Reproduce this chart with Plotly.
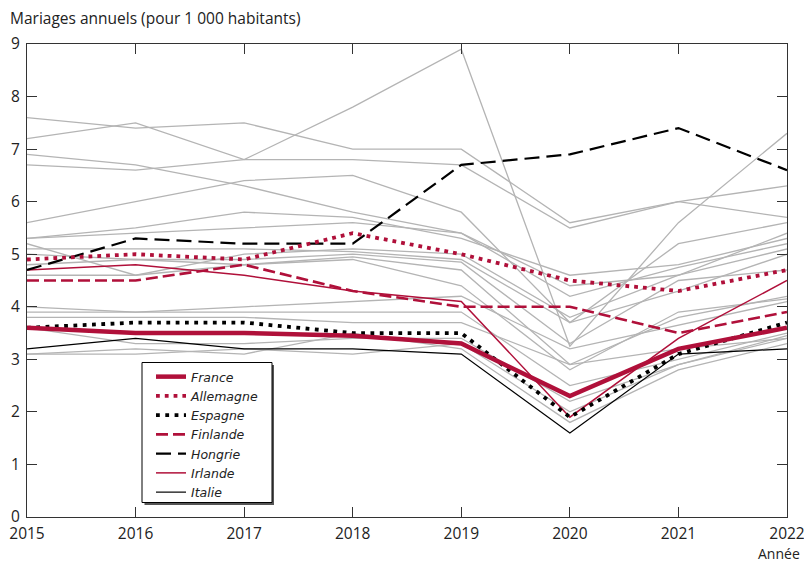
import plotly.graph_objects as go

years = [2015, 2016, 2017, 2018, 2019, 2020, 2021, 2022]
year_labels = ["2015", "2016", "2017", "2018", "2019", "2020", "2021", "2022"]
y_ticks = [0, 1, 2, 3, 4, 5, 6, 7, 8, 9]

france    = [3.6, 3.5, 3.5, 3.45, 3.3, 2.3, 3.2, 3.6]
allemagne = [4.9, 5.0, 4.9, 5.4, 5.0, 4.5, 4.3, 4.7]
espagne   = [3.6, 3.7, 3.7, 3.5, 3.5, 1.9, 3.1, 3.7]
finlande  = [4.5, 4.5, 4.8, 4.3, 4.0, 4.0, 3.5, 3.9]
hongrie   = [4.7, 5.3, 5.2, 5.2, 6.7, 6.9, 7.4, 6.6]
irlande   = [4.7, 4.8, 4.6, 4.3, 4.1, 1.9, 3.4, 4.5]
italie    = [3.2, 3.4, 3.2, 3.2, 3.1, 1.6, 3.1, 3.2]

# other EU countries (grey)
autres = [
    [7.6, 7.4, 7.5, 7.0, 7.0, 5.6, 6.0, 6.3],
    [7.2, 7.5, 6.8, 7.8, 8.9, 3.25, 5.6, 7.3],
    [6.7, 6.6, 6.8, 6.8, 6.7, 5.5, 6.0, 5.7],
    [6.9, 6.7, 6.3, 5.8, 5.4, 4.4, 4.6, 5.4],
    [5.6, 6.0, 6.4, 6.5, 5.8, 3.7, 5.2, 5.6],
    [5.3, 5.5, 5.8, 5.7, 5.3, 4.6, 4.8, 5.3],
    [5.3, 5.4, 5.5, 5.6, 5.4, 4.2, 4.75, 5.2],
    [5.2, 4.6, 5.0, 5.1, 5.0, 3.8, 4.6, 5.1],
    [5.1, 5.1, 5.1, 5.05, 4.9, 3.7, 4.3, 5.0],
    [5.0, 4.9, 4.9, 5.0, 4.85, 3.3, 4.5, 4.7],
    [4.8, 4.9, 4.8, 4.95, 4.7, 2.9, 3.8, 4.2],
    [4.6, 4.6, 4.8, 4.9, 4.4, 2.8, 3.9, 4.15],
    [4.0, 3.9, 4.0, 4.1, 4.2, 3.2, 3.65, 4.1],
    [3.9, 3.9, 3.9, 3.9, 3.9, 2.5, 3.0, 3.5],
    [3.8, 3.8, 3.8, 3.7, 3.7, 2.9, 3.2, 3.4],
    [3.6, 3.3, 3.3, 3.4, 3.4, 2.2, 2.9, 3.4],
    [3.1, 3.2, 3.1, 3.5, 3.2, 1.8, 2.8, 3.3],
    [3.1, 3.1, 3.2, 3.1, 3.3, 2.0, 2.9, 3.45],
]

RED = "#b0103a"
GREY = "#b4b4b4"
FONT = "Open Sans"

fig = go.Figure()
for serie in autres:
    fig.add_trace(go.Scatter(x=years, y=serie, mode="lines", showlegend=False,
                             hoverinfo="skip", line=dict(color=GREY, width=1.3)))

main = [
    ("France", france, dict(color=RED, width=4.5), 1),
    ("Allemagne", allemagne, dict(color=RED, width=3.8, dash="3.8px,5px"), 2),
    ("Espagne", espagne, dict(color="black", width=3.8, dash="3.8px,5.5px"), 3),
    ("Finlande", finlande, dict(color=RED, width=2.6, dash="12px,5px"), 4),
    ("Hongrie", hongrie, dict(color="black", width=2.2, dash="15px,7px"), 5),
    ("Irlande", irlande, dict(color=RED, width=1.5), 6),
    ("Italie", italie, dict(color="black", width=1.2), 7),
]
for name, vals, line, rank in reversed(main):
    fig.add_trace(go.Scatter(x=years, y=vals, mode="lines", name=name,
                             line=line, legendrank=rank))

def px(xp):
    return (xp - 27) / 760.0

def py(yp):
    return (517 - yp) / 473.0

shapes = [
    dict(type="rect", xref="paper", yref="paper", layer="above",
         x0=px(144.5), x1=px(274), y0=py(505), y1=py(365),
         fillcolor="#555555", line=dict(width=0)),
    dict(type="rect", xref="paper", yref="paper", layer="above",
         x0=px(142), x1=px(272), y0=py(502.5), y1=py(362.5),
         fillcolor="white", line=dict(color="black", width=1)),
]

axis_common = dict(showgrid=False, zeroline=False, showline=True, linecolor="#333333",
                   linewidth=1.3, ticks="inside", ticklen=10, tickcolor="#333333",
                   tickwidth=1.3, mirror="ticks", automargin=False,
                   ticklabeloverflow="allow",
                   tickfont=dict(family=FONT, size=15.5, color="#222222"))

fig.update_layout(
    width=804, height=562,
    margin=dict(l=27, r=17, t=44, b=45, autoexpand=False),
    paper_bgcolor="white", plot_bgcolor="white",
    xaxis=dict(range=[2015, 2022], tickvals=years, ticktext=year_labels,
               ticklabelstandoff=2, **axis_common),
    yaxis=dict(range=[0, 9], tickvals=y_ticks, ticklabelstandoff=3, **axis_common),
    showlegend=True,
    legend=dict(x=px(151), y=py(362), xanchor="left", yanchor="top",
                bgcolor="rgba(0,0,0,0)", borderwidth=0, itemwidth=30,
                font=dict(family="DejaVu Sans", size=12.5, color="#222222", style="italic"),
                traceorder="normal"),
    shapes=shapes,
    annotations=[
        dict(text="Mariages annuels (pour 1 000 habitants)", xref="paper", yref="paper",
             x=px(8), y=py(18), xanchor="left", yanchor="middle", showarrow=False,
             font=dict(family=FONT, size=15.5, color="#222222")),
        dict(text="Année", xref="paper", yref="paper",
             x=px(802), y=py(553.5), xanchor="right", yanchor="middle", showarrow=False,
             font=dict(family=FONT, size=14, color="#222222")),
    ],
)

fig.write_html("out.html", config={"displayModeBar": False},
               post_script="document.body.style.margin='0px';")
